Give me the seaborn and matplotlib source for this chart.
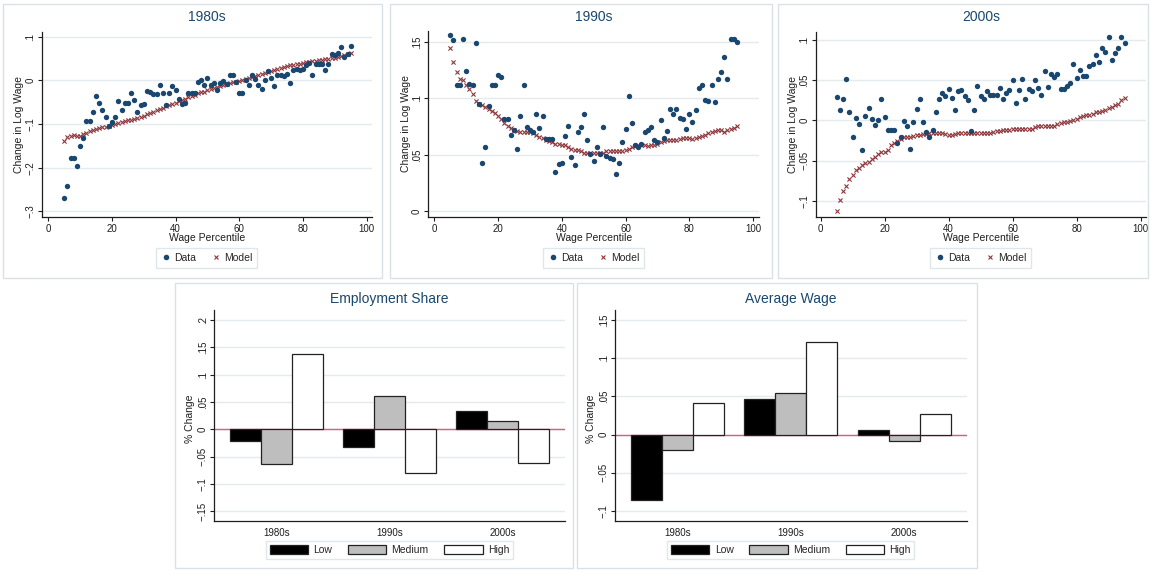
import matplotlib
matplotlib.use("Agg")
import matplotlib.pyplot as plt
from matplotlib.patches import Rectangle, Patch
from matplotlib.lines import Line2D
import pandas as pd
import seaborn as sns

# ---------------------------------------------------------------- data
percentile = list(range(5, 96))

data_1980s = [
    -0.270, -0.242, -0.178, -0.178, -0.195, -0.151, -0.132, -0.094, -0.094, -0.073,
    -0.037, -0.053, -0.069, -0.084, -0.105, -0.095, -0.085, -0.047, -0.069, -0.051,
    -0.051, -0.030, -0.045, -0.073, -0.057, -0.054, -0.024, -0.027, -0.031, -0.031,
    -0.012, -0.030, -0.057, -0.030, -0.013, -0.022, -0.043, -0.055, -0.053, -0.030,
    -0.030, -0.030, -0.003, 0.000, -0.010, 0.005, -0.011, -0.006, -0.022, -0.007,
    -0.002, -0.009, 0.011, 0.011, -0.005, -0.030, -0.030, 0.000, -0.012, 0.011,
    0.002, -0.011, -0.021, 0.000, 0.021, 0.004, -0.014, 0.011, 0.011, 0.010,
    0.015, -0.007, 0.023, 0.026, 0.023, 0.026, 0.034, 0.040, 0.011, 0.037,
    0.037, 0.037, 0.023, 0.037, 0.060, 0.058, 0.062, 0.077, 0.054, 0.061, 0.079,
]
model_1980s = [
    -0.139, -0.130, -0.127, -0.126, -0.128, -0.127, -0.124, -0.121, -0.117, -0.114,
    -0.112, -0.110, -0.108, -0.107, -0.105, -0.102, -0.100, -0.098, -0.096, -0.094,
    -0.092, -0.090, -0.088, -0.086, -0.084, -0.081, -0.078, -0.075, -0.072, -0.069,
    -0.066, -0.063, -0.060, -0.057, -0.054, -0.051, -0.048, -0.045, -0.042, -0.039,
    -0.036, -0.033, -0.030, -0.028, -0.026, -0.023, -0.021, -0.018, -0.016, -0.013,
    -0.011, -0.009, -0.007, -0.005, -0.003, -0.001, 0.001, 0.003, 0.005, 0.008,
    0.010, 0.012, 0.015, 0.017, 0.019, 0.021, 0.024, 0.026, 0.028, 0.030,
    0.032, 0.034, 0.036, 0.037, 0.038, 0.039, 0.041, 0.042, 0.044, 0.045,
    0.046, 0.047, 0.048, 0.048, 0.050, 0.052, 0.054, 0.056, 0.058, 0.060, 0.063,
]

data_1990s = [
    0.156, 0.152, 0.112, 0.112, 0.153, 0.124, 0.113, 0.112, 0.149, 0.095,
    0.043, 0.057, 0.093, 0.112, 0.112, 0.121, 0.119, 0.082, 0.082, 0.068,
    0.072, 0.055, 0.084, 0.112, 0.075, 0.072, 0.070, 0.086, 0.074, 0.084,
    0.064, 0.064, 0.064, 0.035, 0.042, 0.043, 0.067, 0.076, 0.048, 0.041,
    0.070, 0.075, 0.086, 0.063, 0.051, 0.045, 0.057, 0.051, 0.075, 0.049,
    0.047, 0.046, 0.033, 0.043, 0.061, 0.073, 0.102, 0.078, 0.059, 0.057,
    0.060, 0.070, 0.072, 0.075, 0.063, 0.061, 0.081, 0.065, 0.071, 0.091,
    0.086, 0.091, 0.083, 0.082, 0.073, 0.086, 0.079, 0.090, 0.109, 0.112,
    0.099, 0.098, 0.112, 0.097, 0.117, 0.123, 0.137, 0.117, 0.153, 0.153, 0.150,
]
model_1990s = [
    0.145, 0.132, 0.123, 0.117, 0.116, 0.112, 0.108, 0.104, 0.098, 0.095,
    0.094, 0.092, 0.091, 0.089, 0.087, 0.084, 0.082, 0.078, 0.076, 0.074,
    0.072, 0.071, 0.070, 0.070, 0.070, 0.070, 0.069, 0.068, 0.066, 0.065,
    0.063, 0.062, 0.061, 0.060, 0.060, 0.059, 0.059, 0.057, 0.055, 0.054,
    0.054, 0.053, 0.052, 0.052, 0.052, 0.052, 0.052, 0.052, 0.052, 0.053,
    0.053, 0.053, 0.053, 0.053, 0.053, 0.054, 0.055, 0.057, 0.058, 0.059,
    0.059, 0.059, 0.058, 0.059, 0.059, 0.060, 0.061, 0.062, 0.063, 0.063,
    0.063, 0.063, 0.064, 0.065, 0.065, 0.065, 0.064, 0.065, 0.066, 0.067,
    0.068, 0.069, 0.070, 0.071, 0.072, 0.072, 0.070, 0.072, 0.073, 0.074, 0.076,
]

data_2000s = [
    0.029, 0.013, 0.026, 0.052, 0.011, -0.021, 0.003, -0.005, -0.036, 0.005,
    0.016, 0.002, -0.006, 0.001, 0.026, 0.004, -0.012, -0.012, -0.012, -0.028,
    -0.020, -0.001, -0.007, -0.035, -0.002, 0.014, 0.026, -0.002, -0.014, -0.020,
    -0.012, 0.011, 0.026, 0.034, 0.030, 0.039, 0.028, 0.013, 0.036, 0.038,
    0.030, 0.025, -0.013, 0.013, 0.043, 0.030, 0.027, 0.037, 0.031, 0.032,
    0.032, 0.040, 0.026, 0.034, 0.038, 0.050, 0.022, 0.038, 0.052, 0.027,
    0.039, 0.036, 0.050, 0.040, 0.032, 0.061, 0.041, 0.058, 0.054, 0.057,
    0.039, 0.039, 0.043, 0.047, 0.070, 0.053, 0.063, 0.055, 0.055, 0.068,
    0.070, 0.081, 0.072, 0.090, 0.085, 0.104, 0.075, 0.084, 0.090, 0.104, 0.096,
]
model_2000s = [
    -0.112, -0.098, -0.087, -0.081, -0.073, -0.067, -0.061, -0.059, -0.055, -0.053,
    -0.051, -0.048, -0.045, -0.042, -0.039, -0.039, -0.036, -0.030, -0.028, -0.026,
    -0.023, -0.021, -0.020, -0.020, -0.019, -0.018, -0.018, -0.017, -0.017, -0.016,
    -0.016, -0.016, -0.016, -0.016, -0.017, -0.018, -0.018, -0.017, -0.015, -0.015,
    -0.015, -0.015, -0.015, -0.015, -0.015, -0.015, -0.016, -0.016, -0.016, -0.014,
    -0.013, -0.013, -0.012, -0.012, -0.012, -0.011, -0.011, -0.010, -0.010, -0.011,
    -0.011, -0.010, -0.008, -0.007, -0.007, -0.007, -0.007, -0.007, -0.007, -0.005,
    -0.003, -0.002, -0.002, -0.001, 0.000, 0.002, 0.004, 0.006, 0.007, 0.007,
    0.008, 0.010, 0.011, 0.012, 0.013, 0.015, 0.017, 0.019, 0.021, 0.025, 0.028,
]

decades = ["1980s", "1990s", "2000s"]
skill_groups = ["Low", "Medium", "High"]

emp_low = [-0.022, -0.032, 0.034]
emp_medium = [-0.064, 0.060, 0.015]
emp_high = [0.138, -0.079, -0.061]

wage_low = [-0.085, 0.047, 0.006]
wage_medium = [-0.020, 0.054, -0.009]
wage_high = [0.042, 0.121, 0.027]

x_ticks = [0, 20, 40, 60, 80, 100]

# ---------------------------------------------------------------- style
sns.set_style("white")
plt.rcParams["font.family"] = ["Liberation Sans", "DejaVu Sans"]

NAVY = "#1a476f"
MAROON = "#90353b"
GRID = "#e3ebee"
FRAME = "#d8e2e6"
ZERO = "#e05a80"
BAR_COLORS = {"Low": "#000000", "Medium": "#bebebe", "High": "#ffffff"}

W, H = 1151, 571
fig = plt.figure(figsize=(W / 100, H / 100), dpi=100)
fig.patch.set_facecolor("white")


def frac_x(px):
    return px / W


def frac_y(py):
    return 1 - py / H


def add_axes_px(left, top, right, bottom):
    return fig.add_axes([left / W, 1 - bottom / H, (right - left) / W, (bottom - top) / H])


def panel_frame(left, top, right, bottom):
    fig.patches.append(Rectangle((left / W, 1 - bottom / H), (right - left) / W,
                                 (bottom - top) / H, transform=fig.transFigure,
                                 fill=False, edgecolor=FRAME, linewidth=1.0, zorder=0))


def short_label(v):
    if abs(v) < 1e-9:
        return "0"
    s = f"{abs(v):g}".lstrip("0")
    return ("\u2212" if v < 0 else "") + s


def style_axes(ax, yticks, ylim):
    ax.set_ylim(*ylim)
    ax.set_yticks(yticks)
    ax.set_yticklabels([short_label(v) for v in yticks], rotation=90, va="center")
    ax.set_axisbelow(True)
    ax.yaxis.grid(True, color=GRID, linewidth=1.0)
    ax.xaxis.grid(False)
    for side in ("top", "right"):
        ax.spines[side].set_visible(False)
    for side in ("left", "bottom"):
        ax.spines[side].set_color("#1e1e1e")
        ax.spines[side].set_linewidth(0.9)
    ax.tick_params(axis="y", direction="out", length=3, width=0.8, pad=1.5,
                   labelsize=7, colors="#1e1e1e", left=True)
    ax.set_xlabel("")
    ax.set_ylabel("")


# ---------------------------------------------------------------- scatter panels
scatter_panels = [
    dict(title="1980s", data=data_1980s, model=model_1980s,
         box=(3, 4, 382, 278), ax=(41.7, 31.7, 371.7, 216.7),
         xlim=(-2.07, 101.6), ylim=(-0.312, 0.111),
         yticks=[-0.3, -0.2, -0.1, 0, 0.1], ylab_x=19),
    dict(title="1990s", data=data_1990s, model=model_1990s,
         box=(390, 4, 772, 278), ax=(428.3, 30.7, 759, 217.3),
         xlim=(-1.9, 101.9), ylim=(-0.0053, 0.160),
         yticks=[0, 0.05, 0.1, 0.15], ylab_x=405.7),
    dict(title="2000s", data=data_2000s, model=model_2000s,
         box=(778, 4, 1148, 278), ax=(815.7, 31.7, 1146, 217.3),
         xlim=(-1.56, 101.7), ylim=(-0.120, 0.110),
         yticks=[-0.1, -0.05, 0, 0.05, 0.1], ylab_x=793.3),
]

for p in scatter_panels:
    panel_frame(*p["box"])
    left, top, right, bottom = p["ax"]
    ax = add_axes_px(left, top, right, bottom)
    sns.scatterplot(x=percentile, y=p["model"], ax=ax, marker="x", color=MAROON,
                    s=9, linewidth=0.8, zorder=3, legend=False)
    sns.scatterplot(x=percentile, y=p["data"], ax=ax, marker="o", color=NAVY,
                    s=15, linewidth=0, zorder=4, legend=False)
    ax.set_xlim(*p["xlim"])
    ax.set_xticks(x_ticks)
    style_axes(ax, p["yticks"], p["ylim"])
    ax.tick_params(axis="x", direction="out", length=3, width=0.8, pad=2,
                   labelsize=7, colors="#1e1e1e", bottom=True)

    cx = (left + right) / 2
    fig.text(frac_x(cx), frac_y(17), p["title"], ha="center", va="center",
             fontsize=10, color=NAVY)
    fig.text(frac_x(cx), frac_y(238), "Wage Percentile", ha="center", va="center",
             fontsize=7.5, color="#1e1e1e")
    fig.text(frac_x(p["ylab_x"]), frac_y((top + bottom) / 2), "Change in Log Wage",
             ha="center", va="center", rotation=90, fontsize=7.5, color="#1e1e1e")

    handles = [
        Line2D([], [], marker="o", color=NAVY, linestyle="", markersize=4,
               markeredgewidth=0),
        Line2D([], [], marker="x", color=MAROON, linestyle="", markersize=3.2,
               markeredgewidth=0.8),
    ]
    leg = fig.legend(handles, ["Data", "Model"], loc="center",
                     bbox_to_anchor=(frac_x(cx), frac_y(258)), ncol=2,
                     frameon=True, fancybox=False, fontsize=7.5,
                     handlelength=1.0, handletextpad=0.3, columnspacing=1.4,
                     borderpad=0.45, borderaxespad=0)
    leg.get_frame().set_edgecolor(FRAME)
    leg.get_frame().set_linewidth(1.0)

# ---------------------------------------------------------------- bar panels
def long_table(low, medium, high):
    rows = []
    for group, vals in zip(skill_groups, (low, medium, high)):
        for dec, v in zip(decades, vals):
            rows.append({"decade": dec, "group": group, "value": v})
    return pd.DataFrame(rows)


bar_panels = [
    dict(title="Employment Share", table=long_table(emp_low, emp_medium, emp_high),
         box=(175, 283, 573, 568), ax=(214, 310, 565, 520.7),
         ylim=(-0.167, 0.218), yticks=[-0.15, -0.1, -0.05, 0, 0.05, 0.1, 0.15, 0.2],
         ylab_x=190),
    dict(title="Average Wage", table=long_table(wage_low, wage_medium, wage_high),
         box=(577, 283, 977, 568), ax=(615, 310, 966.7, 520.7),
         ylim=(-0.1126, 0.163), yticks=[-0.1, -0.05, 0, 0.05, 0.1, 0.15],
         ylab_x=591),
]

for p in bar_panels:
    panel_frame(*p["box"])
    left, top, right, bottom = p["ax"]
    ax = add_axes_px(left, top, right, bottom)
    sns.barplot(data=p["table"], x="decade", y="value", hue="group",
                order=decades, hue_order=skill_groups, palette=BAR_COLORS,
                width=0.82, gap=0, saturation=1, errorbar=None,
                edgecolor="#222222", linewidth=0.9, ax=ax, legend=False, zorder=3)
    ax.axhline(0, color=ZERO, linewidth=1.0, zorder=2)
    ax.set_xlim(-0.553, 2.553)
    style_axes(ax, p["yticks"], p["ylim"])
    ax.tick_params(axis="x", length=0, pad=5, labelsize=7, colors="#1e1e1e")

    cx = (left + right) / 2
    fig.text(frac_x(cx), frac_y(299), p["title"], ha="center", va="center",
             fontsize=10, color=NAVY)
    fig.text(frac_x(p["ylab_x"]), frac_y((top + bottom) / 2 + 3), "% Change",
             ha="center", va="center", rotation=90, fontsize=7.5, color="#1e1e1e")

    handles = [Patch(facecolor=BAR_COLORS[g], edgecolor="#222222", linewidth=0.9)
               for g in skill_groups]
    leg = fig.legend(handles, skill_groups, loc="center",
                     bbox_to_anchor=(frac_x(cx), frac_y(550)), ncol=3,
                     frameon=True, fancybox=False, fontsize=7.5,
                     handlelength=3.7, handleheight=1.0, handletextpad=0.5,
                     columnspacing=1.5, borderpad=0.35, borderaxespad=0)
    leg.get_frame().set_edgecolor(FRAME)
    leg.get_frame().set_linewidth(1.0)

fig.savefig("out.png", dpi=100, facecolor="white")
